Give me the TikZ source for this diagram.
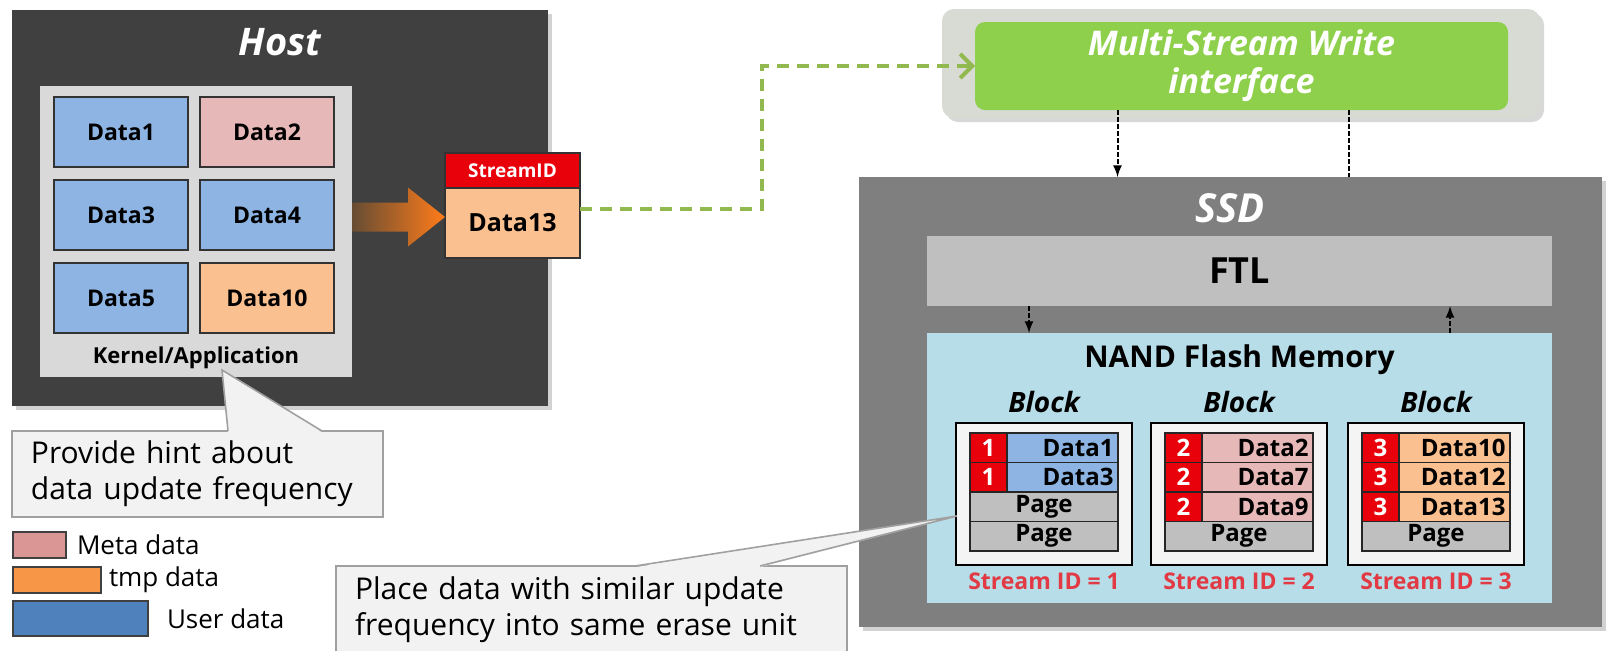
\documentclass[tikz,border=0pt]{standalone}
\usepackage{fontspec}
\setmainfont{Open Sans}
\usepackage{xcolor}
\usepackage{tikz}
\usetikzlibrary{positioning}
\usetikzlibrary{shadows}
\usetikzlibrary{arrows.meta}
\pgfdeclarelayer{nodelayer}
\pgfdeclarelayer{edgelayer}
\pgfsetlayers{nodelayer,edgelayer,main}
\definecolor{hostgray}{HTML}{404040}
\definecolor{kernelgray}{HTML}{D9D9D9}
\definecolor{userblue}{HTML}{8DB4E2}
\definecolor{metapink}{HTML}{E6B9B8}
\definecolor{tmporange}{HTML}{FAC090}
\definecolor{idred}{HTML}{E8000B}
\definecolor{flowgreen}{HTML}{92B94F}
\definecolor{ifgreen}{HTML}{8ED04B}
\definecolor{ifglow}{HTML}{D8DBD3}
\definecolor{ssdgray}{HTML}{7F7F7F}
\definecolor{ftlgray}{HTML}{BFBFBF}
\definecolor{nandblue}{HTML}{B7DDE8}
\definecolor{blockwhite}{HTML}{F4F4F4}
\definecolor{streamred}{HTML}{E23A45}
\definecolor{calloutfill}{HTML}{F2F2F2}
\definecolor{calloutline}{HTML}{A0A0A0}
\definecolor{legpink}{HTML}{DA9694}
\definecolor{legorange}{HTML}{F79646}
\definecolor{legblue}{HTML}{4F81BD}
\tikzset{
    none/.style = {inner sep=0pt},
    title/.style = {inner sep=0pt, text=white, font=\bfseries\itshape\fontsize{19}{22}\selectfont},
    databox/.style = {draw=black!80, line width=1pt, minimum width=67pt, minimum height=35pt, font=\bfseries\fontsize{11.5}{13}\selectfont},
    blocklabel/.style = {inner sep=0pt, font=\bfseries\itshape\fontsize{14}{16}\selectfont},
    blockbox/.style = {fill=blockwhite, draw=black, line width=1.2pt, minimum width=88pt, minimum height=71pt},
    idcell/.style = {fill=idred, draw=black!85, line width=0.9pt, text=white, minimum width=18.5pt, minimum height=14.75pt, font=\bfseries\fontsize{12}{14}\selectfont},
    datacell/.style = {draw=black!85, line width=0.9pt, minimum width=55.5pt, minimum height=14.75pt, text width=51pt, align=right, font=\bfseries\fontsize{12}{14}\selectfont},
    pagecell/.style = {fill=ftlgray, draw=black!85, line width=0.9pt, minimum width=74pt, minimum height=14.75pt, font=\bfseries\fontsize{12}{14}\selectfont},
    streamlabel/.style = {inner sep=0pt, text=streamred, font=\bfseries\fontsize{11.5}{13}\selectfont},
    callout/.style = {fill=calloutfill, draw=calloutline, line width=0.8pt, inner xsep=9.5pt, align=left, font=\fontsize{15}{18}\selectfont},
    legendbox/.style = {draw=black!75, line width=0.8pt},
    legendtext/.style = {inner sep=0pt, font=\fontsize{13}{15}\selectfont},
    flowdash/.style = {draw=flowgreen, line width=2pt, dash pattern=on 6pt off 4pt},
    ctrldash/.style = {draw=black, line width=1pt, dash pattern=on 2.5pt off 1pt}
}

\begin{document}
\begin{tikzpicture}[x=0.5pt, y=-0.5pt, every node/.append style={inner sep=0pt, outer sep=0pt}]
  \useasboundingbox (0,0) rectangle (1610,650);
  \begin{pgfonlayer}{nodelayer}
    \fill [white] (0,0) rectangle (1610,650);
    % host side
    \node [fill=hostgray, minimum width=268pt, minimum height=198pt, drop shadow={opacity=0.35, shadow xshift=2pt, shadow yshift=-2pt}] (0) at (280,208) {};
    \node [title] (1) at (280,42) {Host};
    \node [fill=kernelgray, minimum width=156pt, minimum height=145.5pt] (2) at (196,231.5) {};
    \node [databox, fill=userblue] (3) at (121,132) {Data1};
    \node [databox, fill=metapink] (4) at (267,132) {Data2};
    \node [databox, fill=userblue] (5) at (121,215) {Data3};
    \node [databox, fill=userblue] (6) at (267,215) {Data4};
    \node [databox, fill=userblue] (7) at (121,298) {Data5};
    \node [databox, fill=tmporange] (8) at (267,298) {Data10};
    \node [none, font=\bfseries\fontsize{11}{13}\selectfont] (9) at (196,358) {Kernel/Application};
    \node [draw=black!80, line width=1pt, fill=idred, text=white, minimum width=67.5pt, minimum height=17.5pt, font=\bfseries\fontsize{9.5}{11}\selectfont] (10) at (512.5,170.5) {StreamID};
    \node [draw=black!80, line width=1pt, fill=tmporange, minimum width=67.5pt, minimum height=35pt, font=\bfseries\fontsize{12.5}{14}\selectfont] (11) at (512.5,223) {Data13};
    % interface
    \node [fill=ifglow, rounded corners=6pt, minimum width=299pt, minimum height=54.5pt, drop shadow={opacity=0.3, shadow xshift=2pt, shadow yshift=-2pt}] (12) at (1241,63.5) {};
    \node [fill=ifgreen, rounded corners=5pt, minimum width=266.5pt, minimum height=44pt, text=white, align=center, font=\bfseries\itshape\fontsize{17}{19}\selectfont] (13) at (1241.5,66) {Multi-Stream Write\\interface};
    % ssd side
    \node [fill=ssdgray, minimum width=371.5pt, minimum height=225pt, drop shadow={opacity=0.35, shadow xshift=2pt, shadow yshift=-2pt}] (14) at (1230.5,402) {};
    \node [title, font=\bfseries\itshape\fontsize{20}{23}\selectfont] (15) at (1230,208) {SSD};
    \node [fill=ftlgray, minimum width=312.5pt, minimum height=35pt, font=\bfseries\fontsize{18}{21}\selectfont] (16) at (1239.5,271) {FTL};
    \node [fill=nandblue, minimum width=312.5pt, minimum height=135pt] (17) at (1239.5,468) {};
    \node [none, font=\bfseries\fontsize{15}{18}\selectfont] (18) at (1239.5,360) {NAND Flash Memory};
    \node [blocklabel] (19) at (1044,402) {Block};
    \node [blocklabel] (20) at (1239,402) {Block};
    \node [blocklabel] (21) at (1436,402) {Block};
    \node [blockbox] (22) at (1044,494) {};
    \node [blockbox] (23) at (1239,494) {};
    \node [blockbox] (24) at (1436,494) {};
    \node [datacell, fill=userblue] (27) at (1062.5,447.75) {Data1};
    \node [datacell, fill=userblue] (28) at (1062.5,477.25) {Data3};
    \node [idcell] (25) at (988.5,447.75) {1};
    \node [idcell] (26) at (988.5,477.25) {1};
    \node [pagecell] (29) at (1044,506.75) {Page};
    \node [pagecell] (30) at (1044,536.25) {Page};
    \node [datacell, fill=metapink] (34) at (1257.5,447.75) {Data2};
    \node [datacell, fill=metapink] (35) at (1257.5,477.25) {Data7};
    \node [datacell, fill=metapink] (36) at (1257.5,506.75) {Data9};
    \node [idcell] (31) at (1183.5,447.75) {2};
    \node [idcell] (32) at (1183.5,477.25) {2};
    \node [idcell] (33) at (1183.5,506.75) {2};
    \node [pagecell] (37) at (1239,536.25) {Page};
    \node [datacell, fill=tmporange] (41) at (1454.5,447.75) {Data10};
    \node [datacell, fill=tmporange] (42) at (1454.5,477.25) {Data12};
    \node [datacell, fill=tmporange] (43) at (1454.5,506.75) {Data13};
    \node [idcell] (38) at (1380.5,447.75) {3};
    \node [idcell] (39) at (1380.5,477.25) {3};
    \node [idcell] (40) at (1380.5,506.75) {3};
    \node [pagecell] (44) at (1436,536.25) {Page};
    \node [streamlabel] (45) at (1044,581) {Stream ID = 1};
    \node [streamlabel] (46) at (1239,581) {Stream ID = 2};
    \node [streamlabel] (47) at (1436,581) {Stream ID = 3};
    % callouts
    \coordinate (56) at (222,370);
    \coordinate (57) at (957,516);
    \node [callout, text width=166.5pt, minimum height=43pt] (48) at (197.5,474) {Provide hint about\\data update frequency};
    \fill [calloutfill] ([xshift=15.25pt,yshift=-0.6pt]48.north) -- (56) -- ([xshift=62.25pt,yshift=-0.6pt]48.north) -- cycle;
    \draw [calloutline, line width=0.8pt] ([xshift=15.25pt]48.north) -- (56) -- ([xshift=62.25pt]48.north);
    \node [callout, text width=236.5pt, minimum height=43.5pt] (49) at (591.5,609.5) {Place data with similar update\\frequency into same erase unit};
    \fill [calloutfill] ([xshift=21.75pt,yshift=-0.6pt]49.north) -- (57) -- ([xshift=84.25pt,yshift=-0.6pt]49.north) -- cycle;
    \draw [calloutline, line width=0.8pt] ([xshift=21.75pt]49.north) -- (57) -- ([xshift=84.25pt]49.north);
    % legend
    \node [legendbox, fill=legpink, minimum width=26.5pt, minimum height=13pt] (50) at (39.5,545) {};
    \node [legendbox, fill=legorange, minimum width=44pt, minimum height=13pt] (51) at (57,580) {};
    \node [legendbox, fill=legblue, minimum width=67.5pt, minimum height=17.5pt] (52) at (80.5,618.5) {};
    \node [legendtext, right=5.5pt of 50] (53) {Meta data};
    \node [legendtext, right=4pt of 51] (54) {tmp data};
    \node [legendtext, right=9.5pt of 52] (55) {User data};
  \end{pgfonlayer}
  \begin{pgfonlayer}{edgelayer}
    \coordinate (58) at (762,66);
    \coordinate (59) at ([xshift=-62pt]13.south);
    \coordinate (60) at ([xshift=53.75pt]13.south);
    \coordinate (61) at ([xshift=-105.25pt]16.south);
    \coordinate (62) at ([xshift=105.25pt]17.north);
    \coordinate (63) at (2.east |- 11.west);
    \coordinate (64) at (11.west);
    \shade [left color=hostgray!80!orange, middle color=tmporange!80!white, right color=orange!85!red!90!white]
      ([yshift=10.25pt]63) -- ([xshift=-18.5pt,yshift=10.25pt]64) -- ([xshift=-18.5pt,yshift=17.75pt]64)
      -- ([yshift=3pt]64) -- ([xshift=-18.5pt,yshift=-11.75pt]64) -- ([xshift=-18.5pt,yshift=-4.25pt]64)
      -- ([yshift=-4.25pt]63) -- cycle;
    \draw [flowdash, -{Straight Barb[length=6pt,width=12pt]}] ([yshift=7pt]11.east) -| (58) -- (13.west);
    \draw [ctrldash, -latex] (59) to (59 |- 14.north);
    \draw [ctrldash] (60) to (60 |- 14.north);
    \draw [ctrldash, -latex] (61) to (61 |- 17.north);
    \draw [ctrldash, -latex] (62) to (62 |- 16.south);
  \end{pgfonlayer}
\end{tikzpicture}
\end{document}
